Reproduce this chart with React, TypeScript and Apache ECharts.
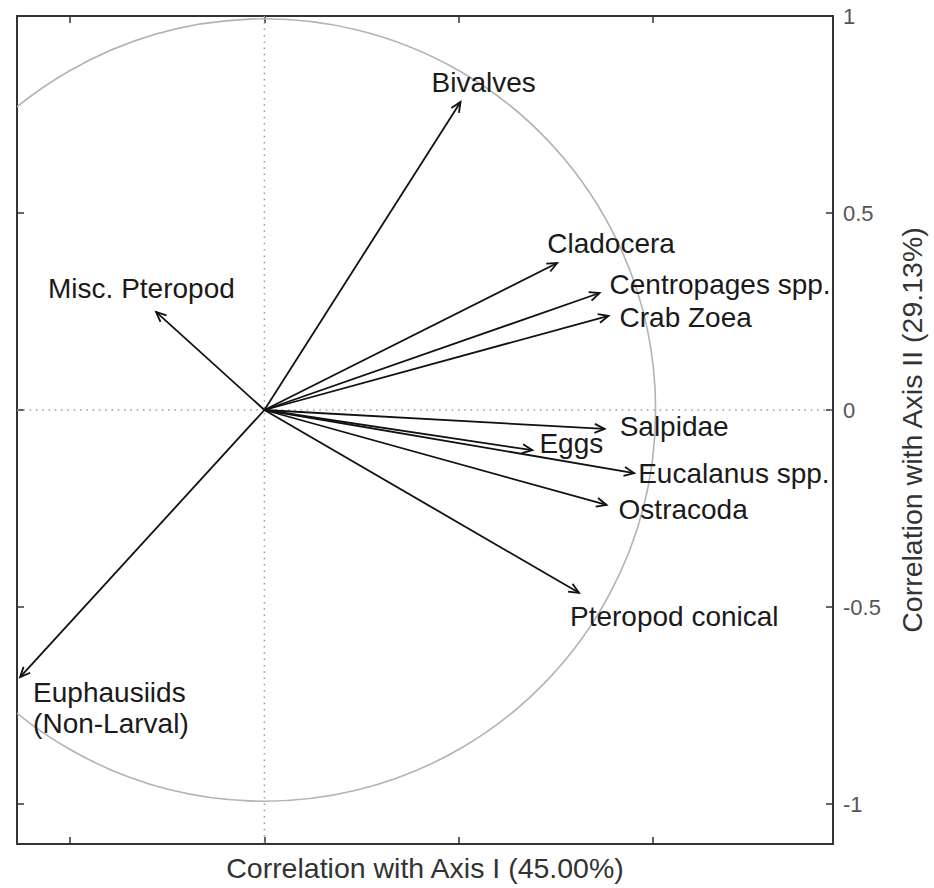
import React, { useEffect, useRef } from "react";
import * as echarts from "echarts";

// Species loadings on the first two ordination axes
const species = [
  "Bivalves",
  "Cladocera",
  "Centropages spp.",
  "Crab Zoea",
  "Misc. Pteropod",
  "Salpidae",
  "Eggs",
  "Eucalanus spp.",
  "Ostracoda",
  "Pteropod conical",
  "Euphausiids\n(Non-Larval)",
];
const axisI = [0.505, 0.754, 0.863, 0.886, -0.279, 0.876, 0.69, 0.952, 0.881, 0.81, -0.629];
const axisII = [0.782, 0.373, 0.297, 0.239, 0.249, -0.048, -0.102, -0.16, -0.241, -0.464, -0.678];

// Tick values
const xTicks = [-0.5, 0, 0.5, 1];
const yTicks = [-1, -0.5, 0, 0.5, 1];

// Label placement relative to each arrow tip, in pixels
const labelOffsets: [number, number][] = [
  [-29, -19],
  [-10, -20],
  [10, -8],
  [11, 2],
  [-108, -23],
  [15, -2],
  [7, -7],
  [4, 0],
  [12, 5],
  [-9, 24],
  [13, 31],
];

const X_MIN = -0.637;
const X_MAX = 1.464;
const Y_MIN = -1.1015;
const Y_MAX = 1;

const FONT = '"Liberation Sans", Arial, Helvetica, sans-serif';
const FRAME = "#333";

export default function App() {
  const ref = useRef<HTMLDivElement>(null);

  useEffect(() => {
    if (!ref.current) return;
    const chart = echarts.init(ref.current, null, { renderer: "svg" });

    const frameAxis = {
      type: "value" as const,
      axisLine: { show: true, onZero: false, lineStyle: { color: FRAME, width: 2 } },
      axisTick: { show: true, inside: true, length: 7, lineStyle: { color: FRAME, width: 1.5 } },
      axisLabel: { show: false },
      splitLine: { show: false },
    };

    const arrowData = species.map((s, i) => [axisI[i], axisII[i], i]);

    chart.setOption({
      animation: false,
      backgroundColor: "#fff",
      grid: { left: 17, top: 16, width: 828, height: 828, containLabel: false },
      xAxis: [
        {
          ...frameAxis,
          position: "bottom",
          min: X_MIN,
          max: X_MAX,
          axisTick: { ...frameAxis.axisTick, customValues: xTicks },
          name: "Correlation with Axis I (45.00%)",
          nameLocation: "middle",
          nameGap: 9,
          nameTextStyle: { fontFamily: FONT, fontSize: 28.5, color: "#333", verticalAlign: "top" },
        },
        {
          ...frameAxis,
          position: "top",
          min: X_MIN,
          max: X_MAX,
          axisTick: { ...frameAxis.axisTick, customValues: xTicks },
        },
      ],
      yAxis: [
        {
          ...frameAxis,
          position: "right",
          min: Y_MIN,
          max: Y_MAX,
          axisTick: { ...frameAxis.axisTick, customValues: yTicks },
          axisLabel: {
            show: true,
            customValues: yTicks,
            margin: 10,
            fontFamily: FONT,
            fontSize: 22,
            color: "#555",
            formatter: (v: number) => String(v),
          },
          name: "Correlation with Axis II (29.13%)",
          nameLocation: "middle",
          nameRotate: 90,
          nameGap: 64,
          nameTextStyle: { fontFamily: FONT, fontSize: 28.5, color: "#333" },
        },
        {
          ...frameAxis,
          position: "left",
          min: Y_MIN,
          max: Y_MAX,
          axisTick: { ...frameAxis.axisTick, customValues: yTicks },
        },
      ],
      series: [
        {
          // Unit correlation circle and zero reference lines
          type: "custom",
          xAxisIndex: 0,
          yAxisIndex: 0,
          clip: true,
          silent: true,
          z: 1,
          data: [[0, 0]],
          renderItem: (params: any, api: any) => {
            const c = api.coord([0, 0]);
            const r = api.size([1, 1]);
            const top = api.coord([0, Y_MAX]);
            const bottom = api.coord([0, Y_MIN]);
            const left = api.coord([X_MIN, 0]);
            const right = api.coord([X_MAX, 0]);
            const dotted = { stroke: "#999", lineWidth: 1.5, lineDash: [1.5, 4.8] };
            return {
              type: "group",
              children: [
                {
                  type: "line",
                  shape: { x1: top[0], y1: top[1], x2: bottom[0], y2: bottom[1] },
                  style: dotted,
                },
                {
                  type: "line",
                  shape: { x1: left[0], y1: left[1], x2: right[0], y2: right[1] },
                  style: dotted,
                },
                {
                  type: "circle",
                  shape: { cx: c[0], cy: c[1], r: (r[0] + r[1]) / 2 },
                  style: { fill: "none", stroke: "#b3b3b3", lineWidth: 1.6 },
                },
              ],
            };
          },
        },
        {
          // Loading vectors with labels
          type: "custom",
          xAxisIndex: 0,
          yAxisIndex: 0,
          clip: false,
          silent: true,
          z: 3,
          data: arrowData,
          renderItem: (params: any, api: any) => {
            const i = api.value(2);
            const o = api.coord([0, 0]);
            const e = api.coord([api.value(0), api.value(1)]);
            const a = Math.atan2(e[1] - o[1], e[0] - o[0]);
            const L = 11;
            const th = 0.42;
            const p1 = [e[0] - L * Math.cos(a - th), e[1] - L * Math.sin(a - th)];
            const p2 = [e[0] - L * Math.cos(a + th), e[1] - L * Math.sin(a + th)];
            const [dx, dy] = labelOffsets[i];
            return {
              type: "group",
              children: [
                {
                  type: "line",
                  shape: { x1: o[0], y1: o[1], x2: e[0], y2: e[1] },
                  style: { stroke: "#111", lineWidth: 1.8 },
                },
                {
                  type: "polyline",
                  shape: { points: [p1, e, p2] },
                  style: { stroke: "#111", lineWidth: 1.8, fill: "none" },
                },
                {
                  type: "text",
                  x: e[0] + dx,
                  y: e[1] + dy,
                  style: {
                    text: species[i],
                    fill: "#1a1a1a",
                    fontFamily: FONT,
                    fontSize: 28,
                    lineHeight: 31,
                    align: "left",
                    verticalAlign: "middle",
                  },
                },
              ],
            };
          },
        },
      ],
    });

    return () => chart.dispose();
  }, []);

  return (
    <div
      ref={ref}
      style={{ position: "absolute", left: 0, top: 0, width: 934, height: 888, background: "#fff" }}
    />
  );
}
